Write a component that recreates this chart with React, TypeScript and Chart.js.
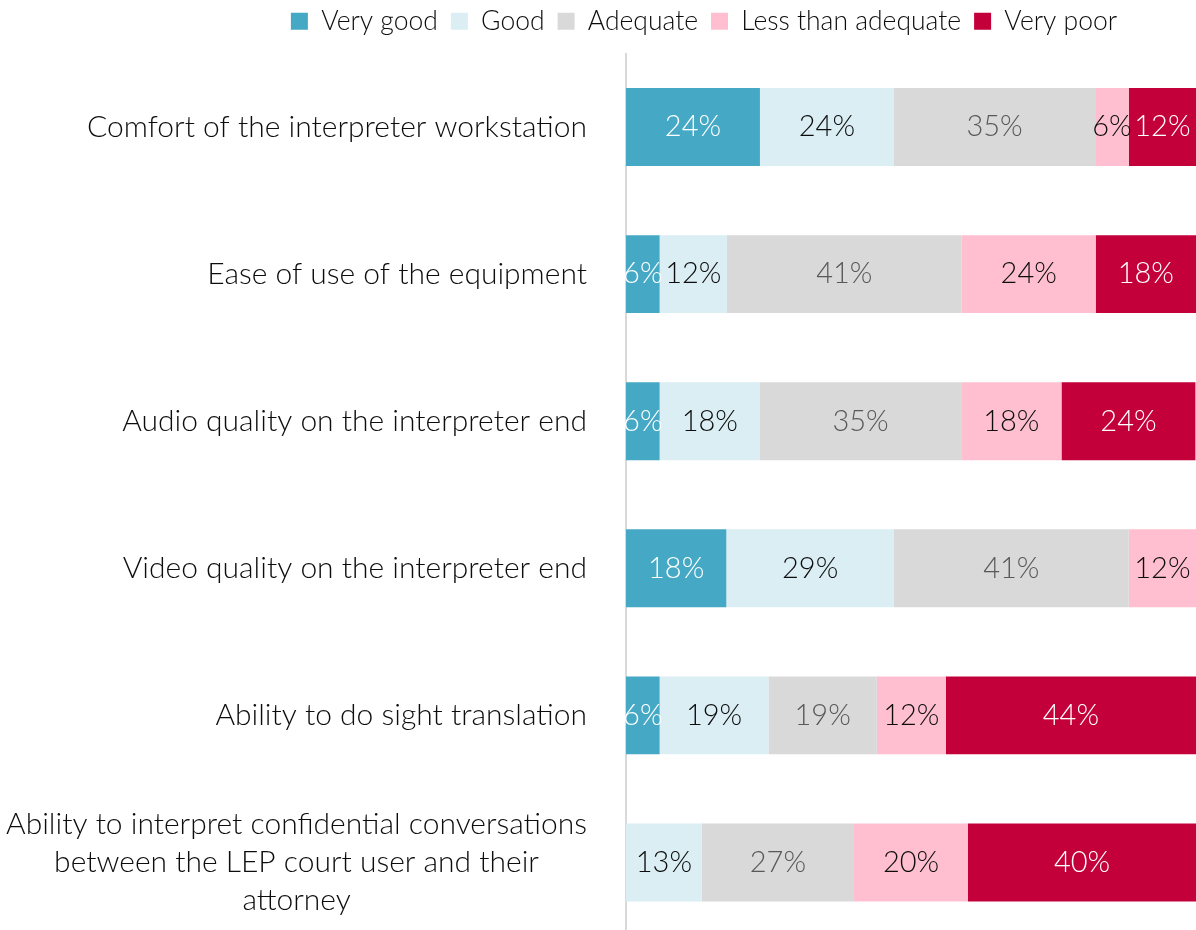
import React, { useEffect, useRef } from 'react';
import { Chart, registerables } from 'chart.js';

Chart.register(...registerables);

const categories: (string | string[])[] = [
  'Comfort of the interpreter workstation',
  'Ease of use of the equipment',
  'Audio quality on the interpreter end',
  'Video quality on the interpreter end',
  'Ability to do sight translation',
  ['Ability to interpret confidential conversations', 'between the LEP court user and their', 'attorney'],
];

const seriesNames = ['Very good', 'Good', 'Adequate', 'Less than adequate', 'Very poor'];

const veryGood = [23.5, 5.9, 5.9, 17.6, 5.9, 0];
const good = [23.5, 11.8, 17.6, 29.4, 19.1, 13.3];
const adequate = [35.3, 41.2, 35.3, 41.2, 19.0, 26.7];
const lessThanAdequate = [5.9, 23.5, 17.6, 11.8, 12.1, 20.0];
const veryPoor = [11.8, 17.6, 23.5, 0, 43.9, 40.0];

const seriesColors = ['#45A9C5', '#DAEEF3', '#D9D9D9', '#FFBFD1', '#C4003A'];
const labelColors = ['#FFFFFF', '#0D0D0D', '#595959', '#0D0D0D', '#FFFFFF'];

const FONT = 'Lato, "Open Sans", sans-serif';

const segmentLabels = {
  id: 'segmentLabels',
  afterDatasetsDraw(chart: any) {
    const ctx = chart.ctx;
    chart.data.datasets.forEach((ds: any, di: number) => {
      const meta = chart.getDatasetMeta(di);
      meta.data.forEach((bar: any, i: number) => {
        const v = ds.data[i];
        if (!v) return;
        const p = bar.getProps(['x', 'y', 'base'], true);
        ctx.save();
        ctx.font = `300 29px ${FONT}`;
        ctx.fillStyle = labelColors[di];
        ctx.textAlign = 'center';
        ctx.textBaseline = 'middle';
        ctx.fillText(Math.round(v) + '%', (p.x + p.base) / 2, p.y);
        ctx.restore();
      });
    });
  },
};

const categoryLabels = {
  id: 'categoryLabels',
  afterDraw(chart: any) {
    const ctx = chart.ctx;
    const yScale = chart.scales.y;
    const right = 587;
    const lineH = 38;
    ctx.save();
    ctx.font = `300 30px ${FONT}`;
    ctx.fillStyle = '#0D0D0D';
    ctx.textBaseline = 'middle';
    categories.forEach((c, i) => {
      const lines = Array.isArray(c) ? c : [c];
      const cy = yScale.getPixelForValue(i);
      const widths = lines.map((l) => ctx.measureText(l).width);
      const maxW = Math.max(...widths);
      const center = right - maxW / 2;
      lines.forEach((l, li) => {
        const y = cy + (li - (lines.length - 1) / 2) * lineH;
        ctx.textAlign = 'center';
        ctx.fillText(l, center, y);
      });
    });
    ctx.restore();
  },
};

const legendShift = {
  id: 'legendShift',
  afterLayout(chart: any) {
    const lg = chart.legend;
    if (lg) {
      lg.left += 106;
      lg.right += 106;
      lg.top -= 9;
      lg.bottom -= 9;
    }
  },
};

export default function App() {
  const ref = useRef<HTMLCanvasElement>(null);
  useEffect(() => {
    document.body.style.margin = '0';
    const values = [veryGood, good, adequate, lessThanAdequate, veryPoor];
    const chart = new Chart(ref.current!, {
      type: 'bar',
      data: {
        labels: categories.map((c) => (Array.isArray(c) ? c.join(' ') : c)),
        datasets: seriesNames.map((name, i) => ({
          label: name,
          data: values[i],
          backgroundColor: seriesColors[i],
          borderWidth: 0,
          categoryPercentage: 1,
          barPercentage: 0.53,
        })),
      },
      options: {
        indexAxis: 'y',
        animation: false,
        responsive: false,
        maintainAspectRatio: false,
        layout: { padding: { top: 4, right: 0, left: 0, bottom: 0 } },
        plugins: {
          tooltip: { enabled: false },
          legend: {
            position: 'top',
            align: 'center',
            labels: {
              boxWidth: 17,
              boxHeight: 17,
              padding: 13,
              color: '#0D0D0D',
              font: { size: 26.5, family: FONT, weight: 300 },
            },
          },
        },
        scales: {
          x: {
            stacked: true,
            min: 0,
            max: 100,
            display: false,
          },
          y: {
            stacked: true,
            grid: { display: false },
            border: { display: true, color: '#D9D9D9', width: 2 },
            ticks: { display: false },
            afterFit(scale: any) {
              scale.width = 626;
            },
          },
        },
      },
      plugins: [segmentLabels, categoryLabels, legendShift],
    });
    return () => chart.destroy();
  }, []);
  return (
    <div style={{ width: 1196, height: 930, overflow: 'hidden' }}>
      <canvas ref={ref} width={1196} height={936} style={{ display: 'block' }} />
    </div>
  );
}
